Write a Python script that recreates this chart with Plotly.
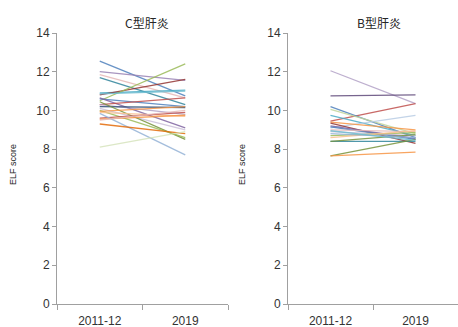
import plotly.graph_objects as go
from plotly.subplots import make_subplots

periods = ["2011-12", "2019"]

# ELF score per patient: (2011-12, 2019)
hcv_start = [12.55, 12.0, 11.85, 11.7, 10.9, 10.8, 10.5, 10.85, 10.6, 10.65,
             10.3, 10.3, 10.2, 10.1, 10.45, 10.0, 9.95, 9.9, 9.6, 9.55,
             9.85, 9.3, 8.1, 9.5]
hcv_end = [10.75, 11.55, 10.65, 10.3, 11.05, 11.6, 12.4, 11.0, 10.2, 9.1,
           10.65, 9.8, 10.15, 9.0, 8.5, 8.6, 10.2, 9.7, 9.9, 9.75,
           7.7, 8.8, 8.9, 10.0]

hbv_start = [12.05, 10.75, 9.45, 10.2, 10.05, 9.75, 9.1, 9.4, 9.35, 9.2,
             9.15, 9.0, 8.9, 8.7, 8.4, 8.4, 7.65, 7.65, 8.6, 8.8, 8.95]
hbv_end = [10.35, 10.8, 10.35, 8.6, 8.8, 8.7, 9.75, 9.0, 8.3, 8.55,
           8.5, 8.9, 8.7, 8.85, 8.4, 8.75, 8.5, 7.85, 8.95, 8.6, 8.45]

hcv_colors = ["#4F81BD", "#9983B5", "#E6B9B8", "#31859C", "#4BACC6", "#943634",
              "#9BBB59", "#6FBDD1", "#4F81BD", "#8064A2", "#C0504D", "#B3A2C7",
              "#2C4D75", "#CCC1DA", "#77933C", "#9BBB59", "#F79646", "#FAC090",
              "#C0504D", "#F79646", "#95B3D7", "#E46C0A", "#D7E4BD", "#E6B9B8"]
hbv_colors = ["#B3A2C7", "#604A7B", "#C0504D", "#4F81BD", "#C3D69B", "#4BACC6",
              "#B9CDE5", "#F79646", "#943634", "#8064A2", "#4F81BD", "#E6B9B8",
              "#CCC1DA", "#9BBB59", "#31859C", "#77933C", "#77933C", "#F79646",
              "#FAC090", "#95B3D7", "#6FBDD1"]

fig = make_subplots(rows=1, cols=2, horizontal_spacing=0.0)

for s, e, c in zip(hcv_start, hcv_end, hcv_colors):
    fig.add_trace(go.Scatter(x=periods, y=[s, e], mode="lines",
                             line=dict(color=c, width=1.3), opacity=0.85,
                             showlegend=False, hoverinfo="skip"), row=1, col=1)
for s, e, c in zip(hbv_start, hbv_end, hbv_colors):
    fig.add_trace(go.Scatter(x=periods, y=[s, e], mode="lines",
                             line=dict(color=c, width=1.3), opacity=0.85,
                             showlegend=False, hoverinfo="skip"), row=1, col=2)

axis_color = "#A0A0A0"
tick_font = dict(family="Liberation Sans, Arial, sans-serif", size=12, color="#333333")

xcommon = dict(type="category", range=[-0.5, 1.5], showline=True, linecolor=axis_color,
               linewidth=1, ticks="outside", tickson="boundaries", ticklen=5,
               tickcolor=axis_color, showgrid=False, zeroline=False, tickfont=tick_font,
               automargin=False, ticklabelstandoff=6)
ycommon = dict(range=[0, 14], dtick=2, showline=True, linecolor=axis_color, linewidth=1,
               ticks="outside", ticklen=4, tickcolor=axis_color, showgrid=False,
               zeroline=False, tickfont=tick_font, automargin=False)

W, H = 458, 327
fig.update_layout(
    width=W, height=H, margin=dict(l=0, r=0, t=0, b=0),
    paper_bgcolor="white", plot_bgcolor="white",
    xaxis=dict(domain=[57 / W, 228 / W], **xcommon),
    xaxis2=dict(domain=[288 / W, 1.0], **xcommon),
    yaxis=dict(domain=[(H - 304) / H, (H - 33) / H], **ycommon),
    yaxis2=dict(domain=[(H - 304) / H, (H - 33) / H], **ycommon),
)

title_font = dict(family="Noto Sans CJK JP, sans-serif", size=12, color="#262626")
label_font = dict(family="Liberation Sans, Arial, sans-serif", size=9, color="#262626")
for x, txt in [(147, "C型肝炎"), (379, "B型肝炎")]:
    fig.add_annotation(x=x / W, y=1 - 23 / H, xref="paper", yref="paper", text=txt,
                       showarrow=False, font=title_font, xanchor="center", yanchor="middle")
for x in [13, 242]:
    fig.add_annotation(x=x / W, y=1 - 165 / H, xref="paper", yref="paper", text="ELF score",
                       showarrow=False, font=label_font, textangle=-90,
                       xanchor="center", yanchor="middle")

fig.write_html("out.html")
